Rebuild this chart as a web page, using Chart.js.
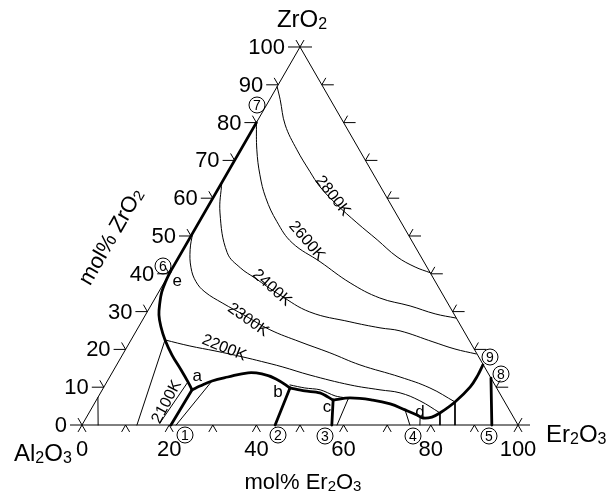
<!DOCTYPE html>
<html>
<head>
<meta charset="utf-8">
<script src="https://cdn.jsdelivr.net/npm/chart.js@4/dist/chart.umd.min.js"></script>
<style>
  html, body { margin: 0; padding: 0; background: #fff; }
  canvas { display: block; }
</style>
</head>
<body>
<canvas id="chart" width="610" height="492"></canvas>
<script>
// Al2O3 - Er2O3 - ZrO2 liquidus projection.
// Every composition is [mol% Er2O3, mol% ZrO2]; Al2O3 is the balance.

const tickValues = [0, 10, 20, 30, 40, 50, 60, 70, 80, 90, 100];
const zrTickLabels = ['0', '10', '20', '30', '40', '50', '60', '70', '80', '90', '100'];
const erTickLabels = ['0', '20', '40', '60', '80', '100'];
const isothermTemps = [2800, 2600, 2400, 2300, 2200, 2100];

// isotherms
const iso2800Er = [0, 2.4, 6.9, 12.9, 18.8, 23.1, 29.3, 36.3, 43.2, 50.0, 55.5, 59.7];
const iso2800Zr = [89.5, 86.1, 79.4, 72.8, 67.0, 63.0, 58.3, 53.5, 49.0, 44.5, 41.8, 40.3];
const iso2600Er = [0, 3.7, 7.7, 12.1, 17.8, 24.1, 33.0, 42.7, 51.5, 59.5, 66.3, 71.6];
const iso2600Zr = [80, 72.8, 66.2, 60.1, 53.8, 48.2, 43.2, 37.6, 33.6, 31.5, 29.4, 28.3];
const iso2400Er = [0, 3.6, 10.5, 15.5, 20.2, 28.2, 37.3, 47.8, 55.5, 60.5, 69.5, 75.5, 81.0];
const iso2400Zr = [64.1, 56.1, 45.6, 41.6, 38.9, 34.4, 29.9, 27.3, 25.7, 24.9, 22.0, 20.1, 18.8];
const iso2300Er = [0, 1.6, 4.2, 7.2, 10.6, 16.0, 23.0, 30.5, 39.0, 47.3, 55.8, 66.6, 74.9, 82.5];
const iso2300Zr = [50.8, 46.4, 41.6, 37.9, 35.2, 32.3, 28.9, 25.2, 22.0, 19.1, 15.9, 12.7, 9.8, 6.1];
const iso2200Er = [7.8, 14.3, 20.7, 27.9, 32.8, 38.2, 45.7, 56.2, 63.7, 68.7, 74.3, 80.5];
const iso2200Zr = [22.5, 20.9, 19.6, 18.0, 16.8, 15.4, 13.2, 10.6, 9.3, 8.5, 6.4, 3.2];
const iso2100Er = [18.6, 17.6];
const iso2100Zr = [11.4, 0.5];

// boundary curves (thick)
const zrEdgeEr = [0, 0];
const zrEdgeZr = [80, 40.5];
const zrFieldEr = [0, 0.2, 0.7, 1.7, 3.1, 5.1, 7.8, 11.4, 15.4, 18.6, 20.6];
const zrFieldZr = [40.5, 38.1, 35.2, 32.3, 29.1, 26.0, 22.5, 18.5, 14.6, 11.4, 9.3];
const curveAbEr = [20.6, 21.9, 24.0, 27.1, 31.2, 34.5, 38.4, 42.8];
const curveAbZr = [9.3, 10.3, 11.65, 12.7, 13.8, 13.5, 12.2, 9.8];
const curveBcEr = [42.8, 46.6, 50.3, 54.3];
const curveBcZr = [9.8, 9.0, 8.5, 6.6];
const curveCdEr = [54.3, 57.9, 63.4, 67.9, 72.1, 75.5, 77.3, 79.2, 80.5, 82.5, 84.0, 84.2, 84.0];
const curveCdZr = [6.6, 7.15, 6.6, 5.6, 4.0, 2.65, 1.85, 2.1, 3.2, 6.1, 10.1, 13.2, 15.9];

// thin line running just above the b-c boundary
const nearBcEr = [42.4, 46.2, 50.0, 54.2, 57.0];
const nearBcZr = [10.6, 9.8, 9.3, 7.7, 7.15];

// straight thick tie lines: a-1, b-2, c-3, 8-5
const thickFromEr = [20.6, 42.8, 54.3, 87.6];
const thickFromZr = [9.3, 9.8, 6.6, 12.4];
const thickToEr = [20.4, 44.3, 57.3, 94.0];
const thickToZr = [0, 0, 0, 0];

// straight thin lines down to the binary edge
const thinFromEr = [7.8, 0, 24.0, 57.6, 72.1, 76.5, 80.5, 82.5];
const thinFromZr = [22.5, 7.3, 11.65, 6.9, 4.0, 2.1, 3.2, 6.1];
const thinToEr = [12.6, 3.7, 21.6, 58.5, 75.2, 77.5, 82.1, 85.55];
const thinToZr = [0, 0, 0, 0, 0, 0, 0, 0];

// triangle outline
const frameEr = [0, 100, 0, 0];
const frameZr = [0, 0, 100, 0];

const SIN60 = Math.sqrt(3) / 2;
function tern(er, zr) { return { x: er + zr / 2, y: zr * SIN60 }; }

function line(er, zr, width, tension) {
  return {
    data: er.map((e, i) => tern(e, zr[i])),
    showLine: true,
    borderColor: '#000',
    borderWidth: width,
    pointRadius: 0,
    tension: tension || 0,
    fill: false,
    clip: false,
    borderCapStyle: 'round',
    borderJoinStyle: 'round'
  };
}

const datasets = [
  line(frameEr, frameZr, 1, 0),
  line(iso2800Er, iso2800Zr, 1, 0.4),
  line(iso2600Er, iso2600Zr, 1, 0.4),
  line(iso2400Er, iso2400Zr, 1, 0.4),
  line(iso2300Er, iso2300Zr, 1, 0.4),
  line(iso2200Er, iso2200Zr, 1, 0.4),
  line(iso2100Er, iso2100Zr, 1, 0),
  line(nearBcEr, nearBcZr, 1, 0.3),
  line(zrEdgeEr, zrEdgeZr, 2.8, 0),
  line(zrFieldEr, zrFieldZr, 2.8, 0.4),
  line(curveAbEr, curveAbZr, 2.8, 0.4),
  line(curveBcEr, curveBcZr, 2.8, 0.3),
  line(curveCdEr, curveCdZr, 2.8, 0.4)
];
thickFromEr.forEach((e, i) => datasets.push(line([e, thickToEr[i]], [thickFromZr[i], thickToZr[i]], 2.8, 0)));
thinFromEr.forEach((e, i) => datasets.push(line([e, thinToEr[i]], [thinFromZr[i], thinToZr[i]], 1, 0)));

// label anchors, as compositions, with rotation in degrees
const isoLabelSpots = [
  { er: 27.2, zr: 60.6, rot: 52 },
  { er: 27.2, zr: 48.7, rot: 49 },
  { er: 25.4, zr: 36.3, rot: 42 },
  { er: 24.2, zr: 27.8, rot: 35 },
  { er: 22.4, zr: 20.4, rot: 22 },
  { er: 16.4, zr: 6.1, rot: -62 }
];
const pointLetters = [
  { t: 'a', er: 19.9, zr: 13.0 },
  { t: 'b', er: 40.6, zr: 8.7 },
  { t: 'c', er: 53.8, zr: 4.8 },
  { t: 'd', er: 75.8, zr: 3.4 },
  { t: 'e', er: 2.9, zr: 37.9 }
];
const circled = [
  { t: '1', px: 185, py: 435 }, { t: '2', px: 278, py: 435 }, { t: '3', px: 325, py: 436 },
  { t: '4', px: 413, py: 436 }, { t: '5', px: 489, py: 436 }, { t: '6', px: 163, py: 266 },
  { t: '7', px: 257, py: 105 }, { t: '8', px: 501, py: 374 }, { t: '9', px: 490, py: 357 }
];

const FONT = '"Liberation Sans", Arial, Helvetica, sans-serif';

function formula(ctx, parts, x, y, big, small, align) {
  // parts: array of [text, isSubscript]
  let w = 0;
  parts.forEach(p => { ctx.font = (p[1] ? small : big) + 'px ' + FONT; w += ctx.measureText(p[0]).width; });
  let cx = align === 'center' ? x - w / 2 : (align === 'right' ? x - w : x);
  ctx.textAlign = 'left';
  ctx.textBaseline = 'alphabetic';
  parts.forEach(p => {
    ctx.font = (p[1] ? small : big) + 'px ' + FONT;
    ctx.fillText(p[0], cx, y + (p[1] ? 1.5 : 0));
    cx += ctx.measureText(p[0]).width;
  });
}

const ternaryDecor = {
  id: 'ternaryDecor',
  afterDatasetsDraw(chart) {
    const ctx = chart.ctx;
    const xs = chart.scales.x, ys = chart.scales.y;
    const P = (er, zr) => { const q = tern(er, zr); return [xs.getPixelForValue(q.x), ys.getPixelForValue(q.y)]; };
    ctx.save();
    ctx.strokeStyle = '#000';
    ctx.fillStyle = '#000';
    ctx.lineWidth = 1;

    const seg = (x1, y1, x2, y2) => { ctx.beginPath(); ctx.moveTo(x1, y1); ctx.lineTo(x2, y2); ctx.stroke(); };
    const arm = 8, ax = arm * 0.5, ay = arm * SIN60;

    tickValues.forEach((v, i) => {
      // ZrO2 ticks on the left side
      const [lx, ly] = P(0, v);
      seg(lx, ly, lx - 12, ly);
      seg(lx, ly, lx - ax, ly - ay);
      // ticks on the right side
      const [rx, ry] = P(100 - v, v);
      seg(rx, ry, rx + 12, ry);
      seg(rx, ry, rx + ax, ry - ay);
      // Er2O3 ticks on the base
      const [bx, by] = P(v, 0);
      seg(bx, by, bx - ax, by + ay);
      seg(bx, by, bx + ax, by + ay);

      ctx.font = '22px ' + FONT;
      ctx.textAlign = 'right';
      ctx.textBaseline = 'middle';
      ctx.fillText(zrTickLabels[i], lx - 15, ly + 1);
    });

    ctx.font = '22px ' + FONT;
    ctx.textAlign = 'center';
    ctx.textBaseline = 'alphabetic';
    erTickLabels.forEach(t => {
      const [bx, by] = P(Number(t), 0);
      ctx.fillText(t, bx, by + 31);
    });

    // isotherm labels
    ctx.font = '16px ' + FONT;
    ctx.textAlign = 'center';
    ctx.textBaseline = 'middle';
    isothermTemps.forEach((T, i) => {
      const s = isoLabelSpots[i];
      const [x, y] = P(s.er, s.zr);
      ctx.save();
      ctx.translate(x, y);
      ctx.rotate(s.rot * Math.PI / 180);
      ctx.fillText(T + 'K', 0, 0);
      ctx.restore();
    });

    // invariant point letters
    ctx.font = '17px ' + FONT;
    pointLetters.forEach(p => {
      const [x, y] = P(p.er, p.zr);
      ctx.fillText(p.t, x, y);
    });

    // circled composition numbers
    circled.forEach(c => {
      ctx.beginPath();
      ctx.arc(c.px, c.py, 8, 0, Math.PI * 2);
      ctx.lineWidth = 1;
      ctx.stroke();
      ctx.font = '14px ' + FONT;
      ctx.fillText(c.t, c.px, c.py + 1);
    });

    // component names
    formula(ctx, [['ZrO', 0], ['2', 1]], 302, 27, 24, 16, 'center');
    formula(ctx, [['Al', 0], ['2', 1], ['O', 0], ['3', 1]], 14, 461, 24, 16, 'left');
    formula(ctx, [['Er', 0], ['2', 1], ['O', 0], ['3', 1]], 546, 442, 24, 16, 'left');

    // axis titles
    formula(ctx, [['mol% Er', 0], ['2', 1], ['O', 0], ['3', 1]], 303, 489, 22, 15, 'center');
    ctx.save();
    ctx.translate(110, 236);
    ctx.rotate(-60 * Math.PI / 180);
    formula(ctx, [['mol% ZrO', 0], ['2', 1]], 0, 8, 22, 15, 'center');
    ctx.restore();

    ctx.restore();
  }
};

new Chart(document.getElementById('chart'), {
  type: 'scatter',
  data: { datasets },
  options: {
    responsive: false,
    animation: false,
    devicePixelRatio: 1,
    layout: { padding: { left: 82, right: 92, top: 47, bottom: 67 } },
    scales: {
      x: { type: 'linear', min: 0, max: 100, display: false },
      y: { type: 'linear', min: 0, max: 86.6025, display: false }
    },
    plugins: { legend: { display: false }, tooltip: { enabled: false } }
  },
  plugins: [ternaryDecor]
});
</script>
</body>
</html>
